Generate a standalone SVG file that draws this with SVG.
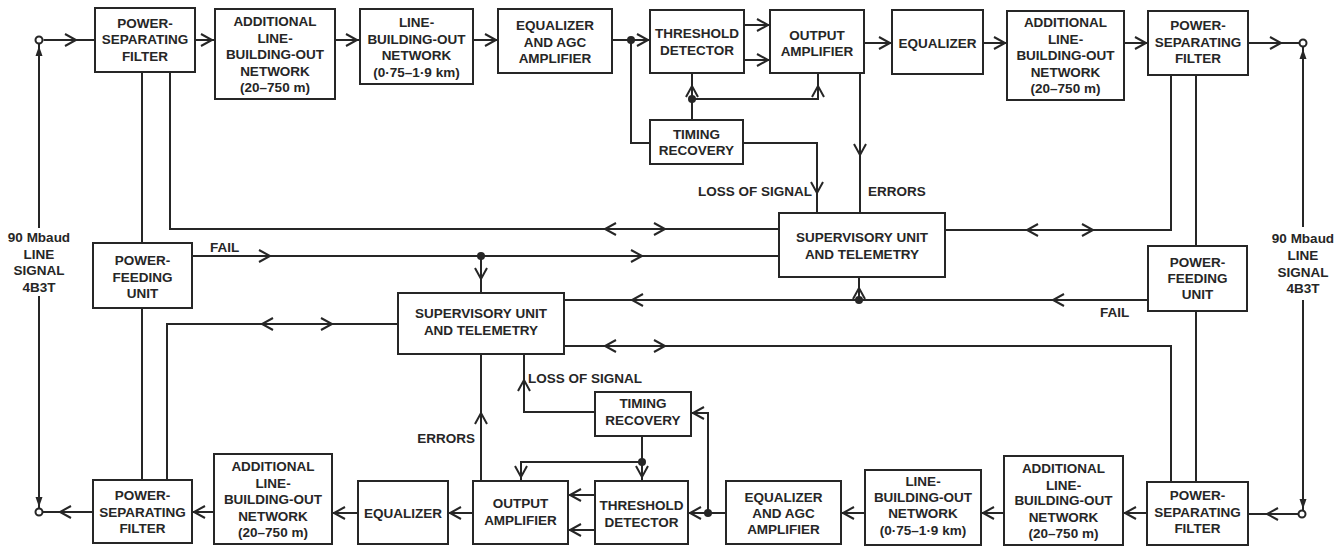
<svg xmlns="http://www.w3.org/2000/svg" width="1342" height="548" viewBox="0 0 1342 548">
<defs>
<style>
.box{fill:#fff;stroke:#262626;stroke-width:2}
.ln{fill:none;stroke:#262626;stroke-width:2}
.chev{fill:none;stroke:#262626;stroke-width:2}
.dot{fill:#262626}
.term{fill:#fff;stroke:#262626;stroke-width:2}
.tri{fill:#262626}
text{font-family:"Liberation Sans",Arial,sans-serif;font-size:13.5px;font-weight:bold;fill:#262626;text-anchor:middle}
text.l{text-anchor:start}
text.r{text-anchor:end}
</style>
<path id="chev" class="chev" d="M-11,-6 L0,0 L-11,6"/>
<path id="tri" class="tri" d="M0,0 L-3.5,10 L3.5,10 Z"/>
</defs>
<rect width="1342" height="548" fill="#fff"/>

<g id="connectors">
<path class="ln" d="M43.5,40 H95 M195,40 H215 M335,40 H360 M473,40 H498 M612,40 H650 M744,25 H770 M744,60 H770 M864,43 H892 M983,43 H1007 M1124,43 H1148 M1248,43 H1299.5"/>
<path class="ln" d="M631,40 V143 H650 M692,120 V73 M692,99 H818 V73 M743,143 H817 V213 M860,73 V213"/>
<path class="ln" d="M142,72 V243 M142,308 V480 M170,72 V229 H779 M192,256 H779 M481,256 V293 M398,324 H167 V480 M564,300 H1148 M859,300 V277 M564,346 H1171 V482 M945,230 H1171 V75 M1196,75 V246 M1196,311 V482"/>
<path class="ln" d="M39,44 V228 M39,296 V508 M1303,47 V227 M1303,300 V510"/>
<path class="ln" d="M1298.5,514 H1248 M1147,513 H1123 M1004,513 H981 M865,513 H841 M726,513 H688 M708,513 V413 H691 M595,495 H568 M595,530 H568 M473,513 H448 M358,513 H332 M214,512 H192 M93,512 H42.5"/>
<path class="ln" d="M642,436 V481 M642,462 H521 V481 M481,481 V354 M595,412 H524 V354"/>

<use href="#chev" transform="translate(76,40)"/>
<use href="#chev" transform="translate(212,40)"/>
<use href="#chev" transform="translate(357,40)"/>
<use href="#chev" transform="translate(496,40)"/>
<use href="#chev" transform="translate(648,40)"/>
<use href="#chev" transform="translate(768,25)"/>
<use href="#chev" transform="translate(768,60)"/>
<use href="#chev" transform="translate(890,43)"/>
<use href="#chev" transform="translate(1005,43)"/>
<use href="#chev" transform="translate(1146,43)"/>
<use href="#chev" transform="translate(1281,43)"/>
<use href="#chev" transform="translate(692,86) rotate(-90)"/>
<use href="#chev" transform="translate(818,86) rotate(-90)"/>
<use href="#chev" transform="translate(817,193) rotate(90)"/>
<use href="#chev" transform="translate(860,155) rotate(90)"/>

<use href="#chev" transform="translate(605,229) rotate(180)"/>
<use href="#chev" transform="translate(665,229)"/>
<use href="#chev" transform="translate(270,256)"/>
<use href="#chev" transform="translate(642,256)"/>
<use href="#chev" transform="translate(481,279) rotate(90)"/>
<use href="#chev" transform="translate(262,324) rotate(180)"/>
<use href="#chev" transform="translate(332,324)"/>
<use href="#chev" transform="translate(632,300) rotate(180)"/>
<use href="#chev" transform="translate(1053,300) rotate(180)"/>
<use href="#chev" transform="translate(859,288) rotate(-90)"/>
<use href="#chev" transform="translate(605,346) rotate(180)"/>
<use href="#chev" transform="translate(665,346)"/>
<use href="#chev" transform="translate(1027,230) rotate(180)"/>
<use href="#chev" transform="translate(1093,230)"/>

<use href="#chev" transform="translate(1267,514) rotate(180)"/>
<use href="#chev" transform="translate(1125,513) rotate(180)"/>
<use href="#chev" transform="translate(983,513) rotate(180)"/>
<use href="#chev" transform="translate(843,513) rotate(180)"/>
<use href="#chev" transform="translate(690,513) rotate(180)"/>
<use href="#chev" transform="translate(693,413) rotate(180)"/>
<use href="#chev" transform="translate(570,495) rotate(180)"/>
<use href="#chev" transform="translate(570,530) rotate(180)"/>
<use href="#chev" transform="translate(450,513) rotate(180)"/>
<use href="#chev" transform="translate(334,513) rotate(180)"/>
<use href="#chev" transform="translate(194,512) rotate(180)"/>
<use href="#chev" transform="translate(60,512) rotate(180)"/>
<use href="#chev" transform="translate(642,477) rotate(90)"/>
<use href="#chev" transform="translate(521,477) rotate(90)"/>
<use href="#chev" transform="translate(481,413) rotate(-90)"/>
<use href="#chev" transform="translate(524,380) rotate(-90)"/>

<use href="#tri" transform="translate(39,46)"/>
<use href="#tri" transform="translate(39,507) rotate(180)"/>
<use href="#tri" transform="translate(1303,49)"/>
<use href="#tri" transform="translate(1303,509) rotate(180)"/>

<circle class="dot" cx="631" cy="40" r="4"/>
<circle class="dot" cx="692" cy="99" r="4"/>
<circle class="dot" cx="481" cy="256" r="4"/>
<circle class="dot" cx="859" cy="300" r="4"/>
<circle class="dot" cx="642" cy="462" r="4"/>
<circle class="dot" cx="708" cy="513" r="4"/>

<circle class="term" cx="39" cy="40" r="3.5"/>
<circle class="term" cx="1303" cy="43" r="3.5"/>
<circle class="term" cx="39" cy="512" r="3.5"/>
<circle class="term" cx="1302" cy="514" r="3.5"/>

<text class="l" x="210" y="252">FAIL</text>
<text class="l" x="1100" y="317">FAIL</text>
<text class="r" x="812" y="196">LOSS OF SIGNAL</text>
<text class="l" x="868" y="196">ERRORS</text>
<text class="l" x="528" y="383">LOSS OF SIGNAL</text>
<text class="r" x="475" y="443">ERRORS</text>
<text x="39" y="242">90 Mbaud</text>
<text x="39" y="258.5">LINE</text>
<text x="39" y="275">SIGNAL</text>
<text x="39" y="291.5">4B3T</text>
<text x="1303" y="243">90 Mbaud</text>
<text x="1303" y="260">LINE</text>
<text x="1303" y="277">SIGNAL</text>
<text x="1303" y="293">4B3T</text>
</g>

<g id="psf_tl"><rect class="box" x="95" y="8" width="100" height="64"/><text x="145" y="27.5">POWER-</text><text x="145" y="44">SEPARATING</text><text x="145" y="60.5">FILTER</text></g>
<g id="albo_t"><rect class="box" x="215" y="9" width="120" height="90"/><text x="275" y="26">ADDITIONAL</text><text x="275" y="42.5">LINE-</text><text x="275" y="59">BUILDING-OUT</text><text x="275" y="75.5">NETWORK</text><text x="275" y="92">(20–750 m)</text></g>
<g id="lbo_t"><rect class="box" x="360" y="9" width="113" height="75"/><text x="416.5" y="27">LINE-</text><text x="416.5" y="43.5">BUILDING-OUT</text><text x="416.5" y="60">NETWORK</text><text x="416.5" y="76.5">(0·75–1·9 km)</text></g>
<g id="eqagc_t"><rect class="box" x="498" y="9" width="114" height="64"/><text x="555" y="30">EQUALIZER</text><text x="555" y="46.5">AND AGC</text><text x="555" y="63">AMPLIFIER</text></g>
<g id="td_t"><rect class="box" x="650" y="10" width="94" height="63"/><text x="697" y="38">THRESHOLD</text><text x="697" y="54.5">DETECTOR</text></g>
<g id="oa_t"><rect class="box" x="770" y="10" width="94" height="63"/><text x="817" y="40">OUTPUT</text><text x="817" y="56">AMPLIFIER</text></g>
<g id="eq_t"><rect class="box" x="892" y="10" width="91" height="64"/><text x="937.5" y="48">EQUALIZER</text></g>
<g id="albo_tr"><rect class="box" x="1007" y="11" width="117" height="89"/><text x="1065.5" y="27">ADDITIONAL</text><text x="1065.5" y="43.5">LINE-</text><text x="1065.5" y="60">BUILDING-OUT</text><text x="1065.5" y="76.5">NETWORK</text><text x="1065.5" y="93">(20–750 m)</text></g>
<g id="psf_tr"><rect class="box" x="1148" y="11" width="100" height="64"/><text x="1198" y="30">POWER-</text><text x="1198" y="46.5">SEPARATING</text><text x="1198" y="63">FILTER</text></g>
<g id="tr_t"><rect class="box" x="650" y="120" width="93" height="44"/><text x="696.5" y="138.5">TIMING</text><text x="696.5" y="155">RECOVERY</text></g>
<g id="su_t"><rect class="box" x="779" y="213" width="166" height="64"/><text x="862" y="242">SUPERVISORY UNIT</text><text x="862" y="258.5">AND TELEMETRY</text></g>
<g id="pfu_l"><rect class="box" x="93" y="243" width="99" height="65"/><text x="142.5" y="265">POWER-</text><text x="142.5" y="281.5">FEEDING</text><text x="142.5" y="298">UNIT</text></g>
<g id="pfu_r"><rect class="box" x="1148" y="246" width="99" height="65"/><text x="1197.5" y="267">POWER-</text><text x="1197.5" y="283">FEEDING</text><text x="1197.5" y="299">UNIT</text></g>
<g id="su_b"><rect class="box" x="398" y="293" width="166" height="61"/><text x="481" y="318">SUPERVISORY UNIT</text><text x="481" y="334.5">AND TELEMETRY</text></g>
<g id="psf_bl"><rect class="box" x="93" y="480" width="99" height="63"/><text x="142.5" y="500">POWER-</text><text x="142.5" y="517">SEPARATING</text><text x="142.5" y="533">FILTER</text></g>
<g id="albo_bl"><rect class="box" x="214" y="454" width="118" height="90"/><text x="273" y="471">ADDITIONAL</text><text x="273" y="488">LINE-</text><text x="273" y="504">BUILDING-OUT</text><text x="273" y="520.5">NETWORK</text><text x="273" y="537">(20–750 m)</text></g>
<g id="eq_b"><rect class="box" x="358" y="481" width="90" height="63"/><text x="403" y="518">EQUALIZER</text></g>
<g id="oa_b"><rect class="box" x="473" y="481" width="95" height="63"/><text x="520.5" y="508">OUTPUT</text><text x="520.5" y="524.5">AMPLIFIER</text></g>
<g id="td_b"><rect class="box" x="595" y="481" width="93" height="63"/><text x="641.5" y="510">THRESHOLD</text><text x="641.5" y="526.5">DETECTOR</text></g>
<g id="tr_b"><rect class="box" x="595" y="392" width="96" height="44"/><text x="643" y="408">TIMING</text><text x="643" y="425">RECOVERY</text></g>
<g id="eqagc_b"><rect class="box" x="726" y="481" width="115" height="63"/><text x="783.5" y="502">EQUALIZER</text><text x="783.5" y="518">AND AGC</text><text x="783.5" y="533.5">AMPLIFIER</text></g>
<g id="lbo_b"><rect class="box" x="865" y="470" width="116" height="75"/><text x="923" y="486">LINE-</text><text x="923" y="502">BUILDING-OUT</text><text x="923" y="518">NETWORK</text><text x="923" y="535">(0·75–1·9 km)</text></g>
<g id="albo_br"><rect class="box" x="1004" y="456" width="119" height="89"/><text x="1063.5" y="473">ADDITIONAL</text><text x="1063.5" y="490">LINE-</text><text x="1063.5" y="505">BUILDING-OUT</text><text x="1063.5" y="522">NETWORK</text><text x="1063.5" y="538">(20–750 m)</text></g>
<g id="psf_br"><rect class="box" x="1147" y="482" width="101" height="63"/><text x="1197.5" y="500">POWER-</text><text x="1197.5" y="517">SEPARATING</text><text x="1197.5" y="533">FILTER</text></g>
</svg>
